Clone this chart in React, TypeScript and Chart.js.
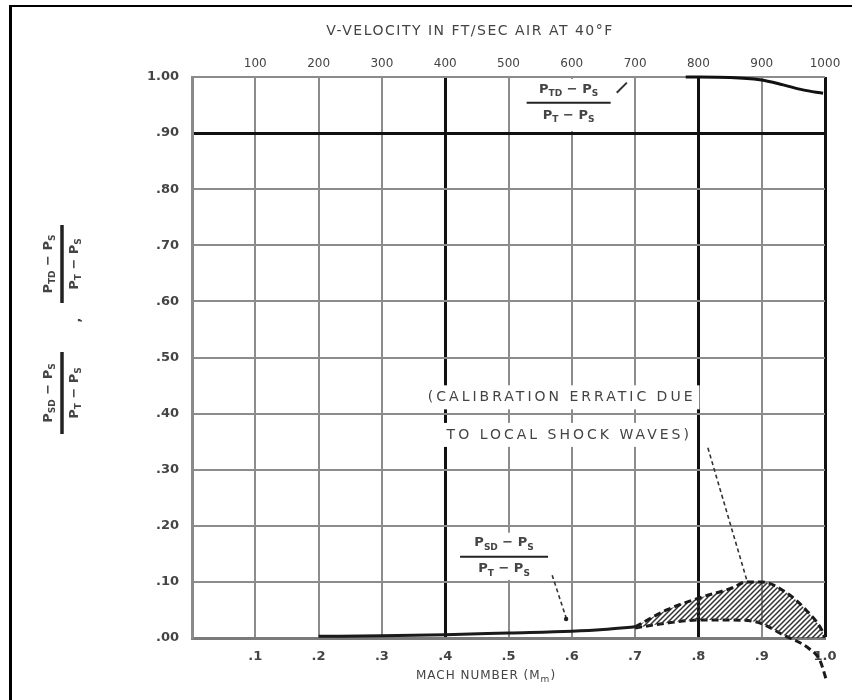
import React, { useEffect, useRef } from 'react';
import { Chart, registerables } from 'chart.js';

Chart.register(...registerables);

// ---- data ----
const xTickLabels = ['', '.1', '.2', '.3', '.4', '.5', '.6', '.7', '.8', '.9', '1.0'];
const yTickLabels = ['.00', '.10', '.20', '.30', '.40', '.50', '.60', '.70', '.80', '.90', '1.00'];
const velocityTickLabels = ['', '100', '200', '300', '400', '500', '600', '700', '800', '900', '1000'];
const heavyMach = [0.4, 0.8, 1.0];
const heavyRatio = [0.9];

// (P_TD - P_S)/(P_T - P_S)
const tdMach = [0.78, 0.85, 0.897, 0.934, 0.965, 0.997];
const tdRatio = [1.0, 0.999, 0.995, 0.986, 0.977, 0.971];

// (P_SD - P_S)/(P_T - P_S)
const sdMach = [0.2, 0.3, 0.4, 0.5, 0.6, 0.65, 0.7];
const sdRatio = [0.003, 0.004, 0.006, 0.009, 0.012, 0.015, 0.02];

// erratic band
const bandUpperMach = [0.7, 0.75, 0.8, 0.855, 0.875, 0.9, 0.94, 0.97, 0.995, 1.0];
const bandUpperRatio = [0.02, 0.05, 0.071, 0.09, 0.1, 0.1, 0.08, 0.05, 0.014, 0.0];
const bandLowerMach = [0.7, 0.753, 0.8, 0.85, 0.89, 0.935, 0.976, 0.992, 1.003];
const bandLowerRatio = [0.018, 0.027, 0.032, 0.032, 0.029, 0.005, -0.02, -0.04, -0.078];

const FONT = '"DejaVu Sans", sans-serif';
const TXT = '#444';

const xy = (xs: number[], ys: number[]) => xs.map((x, i) => ({ x, y: ys[i] }));
const near = (v: number, list: number[]) => list.some((h) => Math.abs(v - h) < 1e-6);

type Part = [string, number];
const numTD: Part[] = [['P', 0], ['TD', 1], [' − ', 0], ['P', 0], ['S', 1]];
const numSD: Part[] = [['P', 0], ['SD', 1], [' − ', 0], ['P', 0], ['S', 1]];
const denT: Part[] = [['P', 0], ['T', 1], [' − ', 0], ['P', 0], ['S', 1]];

function drawRich(ctx: CanvasRenderingContext2D, parts: Part[], cx: number, cy: number, size: number) {
  const big = `bold ${size}px ${FONT}`;
  const small = `bold ${Math.round(size * 0.7)}px ${FONT}`;
  let w = 0;
  parts.forEach(([t, s]) => {
    ctx.font = s ? small : big;
    w += ctx.measureText(t).width;
  });
  let x = cx - w / 2;
  ctx.textAlign = 'left';
  ctx.textBaseline = 'middle';
  parts.forEach(([t, s]) => {
    ctx.font = s ? small : big;
    ctx.fillText(t, x, s ? cy + size * 0.35 : cy);
    x += ctx.measureText(t).width;
  });
}

function drawFraction(
  ctx: CanvasRenderingContext2D,
  num: Part[],
  den: Part[],
  cx: number,
  cy: number,
  len: number,
  size: number,
  bar: number,
  box: [number, number] | null
) {
  ctx.save();
  if (box) {
    ctx.fillStyle = '#fff';
    ctx.fillRect(cx - len / 2 - 4, box[0], len + 8, box[1] - box[0]);
  }
  ctx.fillStyle = TXT;
  drawRich(ctx, num, cx, cy - size * 1.05, size);
  drawRich(ctx, den, cx, cy + size * 0.95, size);
  ctx.strokeStyle = '#222';
  ctx.lineWidth = bar;
  ctx.beginPath();
  ctx.moveTo(cx - len / 2, cy);
  ctx.lineTo(cx + len / 2, cy);
  ctx.stroke();
  ctx.restore();
}

function boxedText(ctx: CanvasRenderingContext2D, text: string, cx: number, cy: number, h: number) {
  const w = ctx.measureText(text).width;
  const fs = ctx.fillStyle;
  ctx.fillStyle = '#fff';
  ctx.fillRect(cx - w / 2 - 4, cy - h / 2, w + 8, h);
  ctx.fillStyle = fs;
  ctx.fillText(text, cx, cy);
}

const annotationPlugin = {
  id: 'annotations',
  beforeDraw(chart: any) {
    const { ctx } = chart;
    ctx.save();
    ctx.fillStyle = '#fff';
    ctx.fillRect(0, 0, chart.width, chart.height);
    ctx.restore();
  },
  afterDraw(chart: any) {
    const { ctx, scales } = chart;
    const X = (v: number) => scales.x.getPixelForValue(v);
    const Y = (v: number) => scales.y.getPixelForValue(v);
    ctx.save();
    // frame
    ctx.strokeStyle = '#000';
    ctx.lineWidth = 2;
    ctx.beginPath();
    ctx.moveTo(9, 6);
    ctx.lineTo(chart.width, 6);
    ctx.stroke();
    ctx.lineWidth = 3;
    ctx.beginPath();
    ctx.moveTo(10.5, 6);
    ctx.lineTo(10.5, chart.height);
    ctx.stroke();

    // top title
    ctx.fillStyle = TXT;
    ctx.font = `14px ${FONT}`;
    (ctx as any).letterSpacing = '1.5px';
    ctx.textAlign = 'center';
    ctx.textBaseline = 'middle';
    ctx.fillText('V-VELOCITY IN FT/SEC AIR AT 40°F', 470, 31);

    // bottom title
    (ctx as any).letterSpacing = '1px';
    ctx.font = `12px ${FONT}`;
    ctx.textAlign = 'left';
    const t1 = 'MACH NUMBER (M';
    const w1 = ctx.measureText(t1).width;
    ctx.font = `9px ${FONT}`;
    const w2 = ctx.measureText('m').width;
    ctx.font = `12px ${FONT}`;
    const w3 = ctx.measureText(')').width;
    const sx = 486 - (w1 + w2 + w3) / 2;
    ctx.fillText(t1, sx, 676);
    ctx.font = `9px ${FONT}`;
    ctx.fillText('m', sx + w1, 680);
    ctx.font = `12px ${FONT}`;
    ctx.fillText(')', sx + w1 + w2, 676);
    (ctx as any).letterSpacing = '0px';

    // y axis title (rotated fractions)
    ctx.save();
    ctx.translate(62, 264);
    ctx.rotate(-Math.PI / 2);
    drawFraction(ctx, numTD, denT, 0, 0, 78, 13, 3.5, null);
    ctx.restore();
    ctx.save();
    ctx.translate(62, 393);
    ctx.rotate(-Math.PI / 2);
    drawFraction(ctx, numSD, denT, 0, 0, 82, 13, 3.5, null);
    ctx.restore();
    ctx.save();
    ctx.translate(77, 320);
    ctx.rotate(-Math.PI / 2);
    ctx.fillStyle = TXT;
    ctx.font = `bold 13px ${FONT}`;
    ctx.textAlign = 'center';
    ctx.textBaseline = 'middle';
    ctx.fillText(',', 0, 0);
    ctx.restore();

    // top annotation fraction
    const topBar = Y(0.954);
    drawFraction(ctx, numTD, denT, X(0.595), topBar, 84, 13, 2, [Y(1) + 2, Y(0.9) - 2]);
    ctx.strokeStyle = '#333';
    ctx.lineWidth = 2;
    ctx.beginPath();
    ctx.moveTo(X(0.671), Y(0.972));
    ctx.lineTo(X(0.687), Y(0.99));
    ctx.stroke();

    // lower annotation fraction
    const lowBar = Y(0.145);
    drawFraction(ctx, numSD, denT, X(0.493), lowBar, 88, 13, 2, [lowBar - 24, Y(0.1) - 2]);

    // dashed leaders
    ctx.setLineDash([4, 3]);
    ctx.lineWidth = 1.6;
    ctx.strokeStyle = '#333';
    ctx.beginPath();
    ctx.moveTo(X(0.569), Y(0.112));
    ctx.lineTo(X(0.591), Y(0.036));
    ctx.moveTo(X(0.815), Y(0.339));
    ctx.lineTo(X(0.877), Y(0.101));
    ctx.stroke();
    ctx.setLineDash([]);
    ctx.fillStyle = '#222';
    ctx.beginPath();
    ctx.arc(X(0.591), Y(0.034), 2.2, 0, Math.PI * 2);
    ctx.fill();

    // calibration note
    ctx.fillStyle = TXT;
    ctx.font = `14px ${FONT}`;
    (ctx as any).letterSpacing = '3px';
    ctx.textAlign = 'center';
    ctx.textBaseline = 'middle';
    boxedText(ctx, '(CALIBRATION ERRATIC DUE', X(0.584), Y(0.429), 24);
    boxedText(ctx, 'TO LOCAL SHOCK WAVES)', X(0.596), Y(0.362), 24);
    (ctx as any).letterSpacing = '0px';
    ctx.restore();
  },
};

export default function App() {
  const ref = useRef<HTMLCanvasElement | null>(null);
  useEffect(() => {
    const canvas = ref.current!;
    const c2d = canvas.getContext('2d')!;
    const pc = document.createElement('canvas');
    pc.width = 5;
    pc.height = 5;
    const p = pc.getContext('2d')!;
    p.strokeStyle = '#333';
    p.lineWidth = 1.5;
    p.beginPath();
    p.moveTo(0, 5);
    p.lineTo(5, 0);
    p.moveTo(-1, 1);
    p.lineTo(1, -1);
    p.moveTo(4, 6);
    p.lineTo(6, 4);
    p.stroke();
    const hatch = c2d.createPattern(pc, 'repeat')!;

    const gridColor = (list: number[]) => (c: any) => (c.tick && near(c.tick.value, list) ? '#111' : '#8c8c8c');
    const gridWidth = (list: number[]) => (c: any) => (c.tick && near(c.tick.value, list) ? 3 : 2);

    const chart = new Chart(canvas, {
      type: 'line',
      data: {
        datasets: [
          {
            data: xy(tdMach, tdRatio),
            borderColor: '#111',
            borderWidth: 3,
            pointRadius: 0,
            cubicInterpolationMode: 'monotone',
            fill: false,
            clip: false as any,
          },
          {
            data: xy(sdMach, sdRatio),
            borderColor: '#1a1a1a',
            borderWidth: 3,
            pointRadius: 0,
            cubicInterpolationMode: 'monotone',
            fill: false,
          },
          {
            data: xy(bandUpperMach, bandUpperRatio),
            borderColor: '#1a1a1a',
            borderWidth: 3,
            borderDash: [7, 4],
            pointRadius: 0,
            cubicInterpolationMode: 'monotone',
            fill: '+1',
            backgroundColor: hatch as any,
          },
          {
            data: xy(bandLowerMach, bandLowerRatio),
            borderColor: '#1a1a1a',
            borderWidth: 3,
            borderDash: [7, 4],
            pointRadius: 0,
            cubicInterpolationMode: 'monotone',
            fill: false,
            clip: false as any,
          },
        ],
      },
      options: {
        animation: false,
        responsive: false,
        layout: { padding: { left: 0, right: 27, top: 0, bottom: 0 } },
        plugins: { legend: { display: false }, tooltip: { enabled: false } },
        scales: {
          x: {
            type: 'linear',
            position: 'bottom',
            min: 0,
            max: 1,
            ticks: {
              stepSize: 0.1,
              padding: 11,
              color: TXT,
              font: { family: FONT, size: 13, weight: 'bold' },
              maxRotation: 0,
              autoSkip: false,
              callback: (_v: any, i: number) => xTickLabels[i],
            },
            grid: { color: gridColor(heavyMach), lineWidth: gridWidth(heavyMach), drawTicks: false },
            border: { color: '#7a7a7a', width: 3 },
            afterFit: (s: any) => {
              s.height = 62;
            },
          },
          x2: {
            type: 'linear',
            position: 'top',
            min: 0,
            max: 1000,
            ticks: {
              stepSize: 100,
              padding: 6,
              color: TXT,
              font: { family: FONT, size: 12 },
              maxRotation: 0,
              autoSkip: false,
              callback: (_v: any, i: number) => velocityTickLabels[i],
            },
            grid: { display: false, drawTicks: false },
            border: { display: false },
            afterFit: (s: any) => {
              s.height = 77;
            },
          },
          y: {
            type: 'linear',
            min: 0,
            max: 1,
            ticks: {
              stepSize: 0.1,
              padding: 13,
              color: TXT,
              font: { family: FONT, size: 13, weight: 'bold' },
              autoSkip: false,
              callback: (_v: any, i: number) => yTickLabels[i],
            },
            grid: { color: gridColor(heavyRatio), lineWidth: gridWidth(heavyRatio), drawTicks: false },
            border: { color: '#8a8a8a', width: 3 },
            afterFit: (s: any) => {
              s.width = 192;
            },
          },
        },
      } as any,
      plugins: [annotationPlugin],
    });
    return () => chart.destroy();
  }, []);
  return (
    <div style={{ position: 'absolute', left: 0, top: 0, width: 852, height: 700 }}>
      <canvas ref={ref} width={852} height={700} style={{ display: 'block' }} />
    </div>
  );
}
